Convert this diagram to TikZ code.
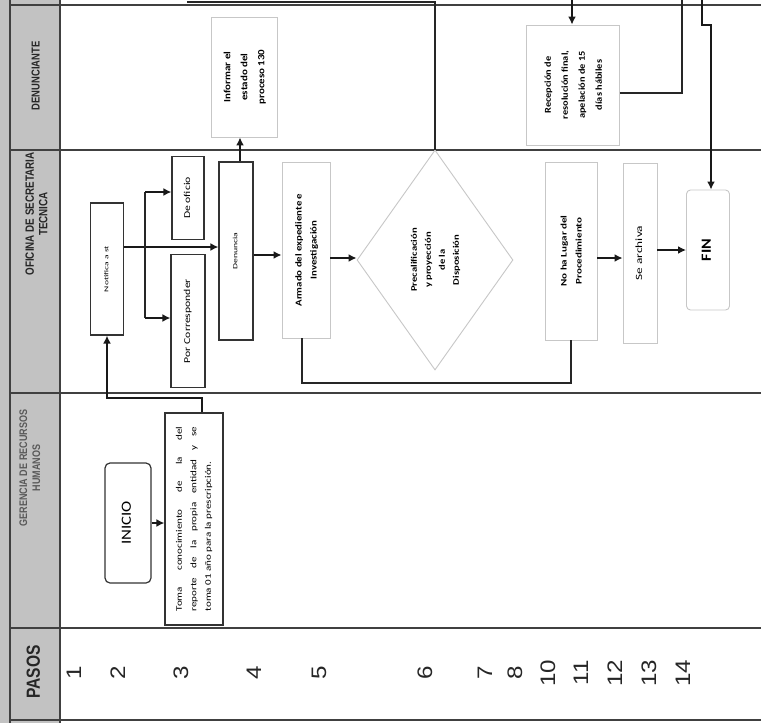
\documentclass[tikz,border=0pt]{standalone}
\usepackage{fontspec}
\usepackage{graphicx}
\setmainfont{Carlito}
\newfontfamily\hdr[FakeStretch=0.82]{Liberation Sans Bold}
\newfontfamily\numf{Liberation Sans}
\usetikzlibrary{arrows.meta,shapes.geometric}
\tikzset{
  dbox/.style={draw=black!80, line width=1.2pt, fill=white, inner sep=0pt, align=center},
  lbox/.style={draw=black!22, line width=0.9pt, fill=white, inner sep=0pt, align=center},
  arr/.style={-{Latex[length=8pt,width=8pt]}, line width=1.6pt, black!90},
  conn/.style={line width=1.3pt, black!85},
  lane/.style={line width=1.1pt, black!75},
  hdrtxt/.style={font=\hdr, align=center, text=black!85},
  stepn/.style={font=\numf, text=black!85}
}
% rotated, stretched text: #1 stretch, #2 font size, #3 leading, #4 lines
\newcommand{\rtx}[4]{\rotatebox{90}{\scalebox{#1}[1]{\fontsize{#2}{#3}\selectfont\begin{tabular}{@{}c@{}}#4\end{tabular}}}}
\begin{document}
\begin{tikzpicture}[x=1pt,y=-1pt]
\useasboundingbox (0,0) rectangle (761,723);
\fill[white] (0,0) rectangle (761,723);
% header column
\fill[black!24] (0,0) rectangle (60,723);
\draw[lane] (10,0) -- (10,723);
\draw[lane] (60,0) -- (60,723);
\foreach \yy in {5,150,393,628,720} {\draw[lane] (10,\yy) -- (761,\yy);}
% header texts
\node[hdrtxt] (hden) at (37,76) {\rtx{1}{11.5}{13}{DENUNCIANTE}};
\node[hdrtxt] (hofi) at (38,214) {\rtx{1}{12}{13.5}{OFICINA DE SECRETARIA\\TECNICA}};
\node[hdrtxt, text=black!65] (hger) at (31,468) {\rtx{1}{11}{13}{GERENCIA DE RECURSOS\\HUMANOS}};
\node[hdrtxt] (hpas) at (36,672) {\rtx{1}{19}{19}{PASOS}};
% step numbers
\foreach \n/\xx in {1/77,2/121,3/184,4/257,5/322,6/428,7/488,8/518,10/551,11/584,12/618,13/652,14/686}{
  \node[stepn] (s\n) at (\xx,673) {\rtx{1.15}{21}{21}{\n}};
}
% boxes
\node[dbox, rounded corners=5pt, minimum width=46pt, minimum height=120pt] (ini) at (128,523) {\rtx{1.2}{14}{14}{INICIO}};
\node[dbox, minimum width=58pt, minimum height=212pt] (toma) at (194,519) {\rotatebox{90}{\scalebox{1.3}[1]{\parbox{142pt}{\fontsize{8.5}{14.5}\selectfont Toma\hfill conocimiento\hfill de\hfill la\hfill del\\ reporte\hfill de\hfill la\hfill propia\hfill entidad\hfill y\hfill se\\ toma 01 año para la prescripción.}}}};
\node[dbox, minimum width=33pt, minimum height=132pt] (noti) at (107,269) {\rtx{1.6}{6}{7}{Notifica a st}};
\node[dbox, minimum width=32pt, minimum height=83pt] (ofi) at (188,198) {\rtx{1.3}{9}{10}{De oficio}};
\node[dbox, minimum width=34pt, minimum height=133pt] (por) at (188,321) {\rtx{1.3}{9}{10}{Por Corresponder}};
\node[dbox, minimum width=34pt, minimum height=178pt] (den) at (236,251) {\rtx{1.5}{6.5}{7}{Denuncia}};
\node[lbox, minimum width=66pt, minimum height=120pt] (inf) at (244,77) {\rtx{1.15}{9.5}{17}{\bfseries Informar el\\\bfseries estado del\\\bfseries proceso 130}};
\node[lbox, minimum width=48pt, minimum height=176pt] (arm) at (306,250) {\rtx{1.2}{9}{15}{\bfseries Armado del expediente e\\\bfseries Investigación}};
\node[lbox, diamond, minimum width=156pt, minimum height=220pt, inner sep=0pt] (dia) at (435,260) {\rtx{1.25}{8.5}{14}{\bfseries Precalificación\\\bfseries y proyección\\\bfseries de la\\\bfseries Disposición}};
\node[lbox, minimum width=93pt, minimum height=120pt] (rec) at (573,85) {\rtx{1.15}{9}{17}{\bfseries Recepción de\\\bfseries resolución final,\\\bfseries apelación de 15\\\bfseries días hábiles}};
\node[lbox, minimum width=52pt, minimum height=178pt] (nhl) at (571,251) {\rtx{1.3}{8.5}{15}{\bfseries No ha Lugar del\\\bfseries Procedimiento}};
\node[lbox, minimum width=34pt, minimum height=180pt] (arc) at (640,253) {\rtx{1.4}{9.5}{10}{Se archiva}};
\node[lbox, rounded corners=4pt, minimum width=43pt, minimum height=120pt] (fin) at (708,250) {\rtx{1.15}{14}{14}{\bfseries FIN}};
% connectors
\coordinate (tl) at (187,2);
\coordinate (tr1) at (682,0);
\coordinate (tr2) at (702,0);
\coordinate (tr3) at (572,0);
\draw[arr] (ini.east) -- (toma.west |- ini.east);
\draw[arr] (toma.north -| 202,0) -- (202,398) -- (noti.south |- 0,398) -- (noti.south);
\draw[arr] (noti.east |- 0,247) -- (den.west |- 0,247);
\draw[conn] (145,192) -- (145,318);
\draw[arr] (145,192) -- (ofi.west |- 0,192);
\draw[arr] (145,318) -- (por.west |- 0,318);
\draw[arr] (den.north -| 240,0) -- (inf.south -| 240,0);
\draw[arr] (den.east |- 0,255) -- (arm.west |- 0,255);
\draw[arr] (arm.east |- 0,258) -- (dia.west |- 0,258);
\draw[conn] (arm.south -| 302,0) -- (302,383) -- (571,383) -- (nhl.south);
\draw[conn] (dia.north) -- (dia.north |- tl) -- (tl);
\draw[arr] (nhl.east |- 0,258) -- (arc.west |- 0,258);
\draw[arr] (arc.east |- 0,250) -- (fin.west |- 0,250);
\draw[arr] (tr3) -- (rec.north -| tr3);
\draw[conn] (rec.east |- 0,93) -- (682,93) -- (tr1);
\draw[arr] (tr2) -- (702,25) -- (711,25) -- (fin.north -| 711,0);
\end{tikzpicture}
\end{document}
